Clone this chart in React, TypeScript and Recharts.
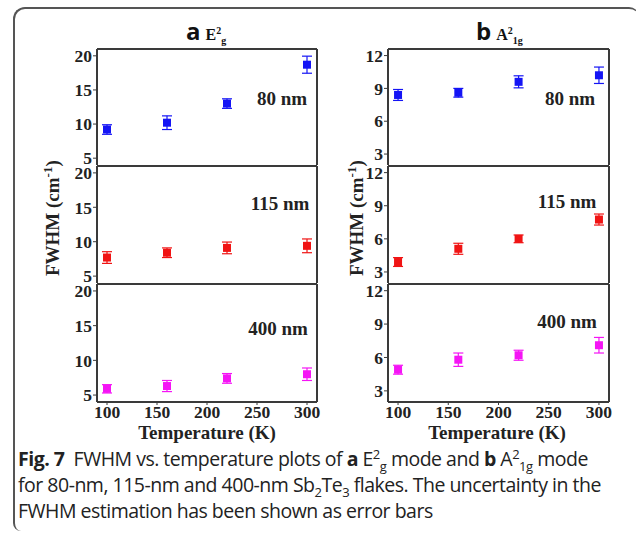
import React from "react";
import { ErrorBar, Scatter, ScatterChart, XAxis, YAxis, ZAxis } from "recharts";

const temps = [100, 160, 220, 300];
const xTicks = [100, 150, 200, 250, 300];

// E2g mode (left column)
const e2g80 = [9.2, 10.2, 13.0, 18.7];
const e2g80Err = [0.7, 1.0, 0.7, 1.25];
const e2g115 = [7.7, 8.4, 9.1, 9.4];
const e2g115Err = [0.85, 0.7, 0.85, 1.0];
const e2g400 = [5.9, 6.3, 7.4, 8.0];
const e2g400Err = [0.6, 0.8, 0.7, 0.9];
const e2gTicks = [5, 10, 15, 20];

// A2 1g mode (right column)
const a1g80 = [8.4, 8.6, 9.6, 10.2];
const a1g80Err = [0.5, 0.4, 0.55, 0.75];
const a1g115 = [3.9, 5.1, 6.0, 7.75];
const a1g115Err = [0.4, 0.5, 0.35, 0.5];
const a1g400 = [4.9, 5.8, 6.2, 7.1];
const a1g400Err = [0.4, 0.6, 0.45, 0.7];
const a1gTicks = [3, 6, 9, 12];

const thickness = ["80 nm", "115 nm", "400 nm"];
const colors = ["#1414f5", "#f01414", "#f514f5"];

const serif = "'Liberation Serif', 'Times New Roman', serif";
const sans = "'Open Sans', 'Noto Sans', sans-serif";
const axisColor = "#3a3a3a";

const rows = (vals: number[], errs: number[]) =>
  temps.map((t, i) => ({ t, v: vals[i], err: errs[i] }));

type PanelProps = {
  data: { t: number; v: number; err: number }[];
  color: string;
  yDomain: [number, number];
  yTicks: number[];
  showX: boolean;
  px: number;
  py: number;
  pw: number;
  ph: number;
};

function Panel({ data, color, yDomain, yTicks, showX, px, py, pw, ph }: PanelProps) {
  const yw = 45;
  const pad = 12;
  const xh = showX ? 30 : 0;
  const tickStyle = { fill: "#222", fontSize: 17.5, fontWeight: "bold", fontFamily: serif };
  const line = { stroke: axisColor, strokeWidth: 2 };
  return (
    <div style={{ position: "absolute", left: px - yw, top: py - pad }}>
      <ScatterChart
        width={pw + yw + pad}
        height={ph + pad + (showX ? xh : pad)}
        margin={{ top: pad, right: pad, bottom: showX ? 0 : pad, left: 0 }}
      >
        <XAxis
          dataKey="t"
          type="number"
          domain={[90, 310]}
          ticks={xTicks}
          height={xh}
          stroke={axisColor}
          tick={showX ? tickStyle : false}
          tickSize={3}
          tickMargin={1}
          axisLine={line}
          tickLine={{ stroke: axisColor }}
          allowDataOverflow
        />
        <XAxis
          xAxisId="top"
          orientation="top"
          type="number"
          domain={[90, 310]}
          height={1}
          stroke={axisColor}
          tick={false}
          tickLine={false}
          axisLine={line}
        />
        <YAxis
          dataKey="v"
          type="number"
          domain={yDomain}
          ticks={yTicks}
          width={yw}
          stroke={axisColor}
          tick={tickStyle}
          tickSize={4}
          tickMargin={1}
          axisLine={line}
          tickLine={{ stroke: axisColor }}
          allowDataOverflow
        />
        <YAxis
          yAxisId="right"
          orientation="right"
          type="number"
          domain={yDomain}
          width={1}
          stroke={axisColor}
          tick={false}
          tickLine={false}
          axisLine={line}
        />
        <ZAxis range={[42, 42]} />
        <Scatter data={data} fill={color} shape="square" isAnimationActive={false}>
          <ErrorBar dataKey="err" direction="y" width={5} stroke={color} strokeWidth={1.2} />
        </Scatter>
      </ScatterChart>
    </div>
  );
}

const nmLabel = (text: string, cx: number, cy: number) => (
  <div
    key={text + cx}
    style={{
      position: "absolute",
      left: cx - 50,
      top: cy - 12,
      width: 100,
      textAlign: "center",
      font: `bold 19px ${serif}`,
      color: "#222",
    }}
  >
    {text}
  </div>
);

const textAt = (content: React.ReactNode, cx: number, cy: number, rotate = false) => (
  <div
    style={{
      position: "absolute",
      left: cx - 100,
      top: cy - 12,
      width: 200,
      textAlign: "center",
      font: `bold 19px ${serif}`,
      color: "#222",
      transform: rotate ? "rotate(-90deg)" : undefined,
      whiteSpace: "nowrap",
    }}
  >
    {content}
  </div>
);

const Sub = ({ children }: { children: React.ReactNode }) => (
  <span style={{ fontSize: 13, position: "relative", top: 5 }}>{children}</span>
);
const Sup = ({ children }: { children: React.ReactNode }) => (
  <span style={{ fontSize: 13, position: "relative", top: -7 }}>{children}</span>
);

export default function App() {
  const leftCol = { px: 97, pw: 221 };
  const rightCol = { px: 388, pw: 222 };
  const rowTops = [48, 165, 283];
  const rowH = [117, 118, 119];
  const e2gSets = [rows(e2g80, e2g80Err), rows(e2g115, e2g115Err), rows(e2g400, e2g400Err)];
  const a1gSets = [rows(a1g80, a1g80Err), rows(a1g115, a1g115Err), rows(a1g400, a1g400Err)];
  const ylab = (
    <span>
      FWHM (cm<sup style={{ fontSize: 13 }}>-1</sup>)
    </span>
  );
  return (
    <div
      style={{
        position: "absolute",
        left: 0,
        top: 0,
        width: 636,
        height: 536,
        background: "#fff",
        overflow: "hidden",
      }}
    >
      <div
        style={{
          position: "absolute",
          left: 13,
          top: 7,
          width: 624,
          height: 522,
          borderTop: "2px solid #555",
          borderLeft: "2px solid #555",
          borderTopLeftRadius: 12,
          borderTopRightRadius: 10,
          borderBottomLeftRadius: 8,
        }}
      />
      {rowTops.map((top, i) => (
        <Panel
          key={"l" + i}
          data={e2gSets[i]}
          color={colors[i]}
          yDomain={[4, 21]}
          yTicks={e2gTicks}
          showX={i === 2}
          px={leftCol.px}
          pw={leftCol.pw}
          py={top}
          ph={rowH[i]}
        />
      ))}
      {rowTops.map((top, i) => (
        <Panel
          key={"r" + i}
          data={a1gSets[i]}
          color={colors[i]}
          yDomain={[2, 12.6]}
          yTicks={a1gTicks}
          showX={i === 2}
          px={rightCol.px}
          pw={rightCol.pw}
          py={top}
          ph={rowH[i]}
        />
      ))}
      {nmLabel(thickness[0], 282, 100)}
      {nmLabel(thickness[1], 280, 205)}
      {nmLabel(thickness[2], 278, 330)}
      {nmLabel(thickness[0], 570, 100)}
      {nmLabel(thickness[1], 567, 203)}
      {nmLabel(thickness[2], 567, 323)}
      {textAt("Temperature (K)", 207, 434)}
      {textAt("Temperature (K)", 497, 434)}
      {textAt(ylab, 52, 218, true)}
      {textAt(ylab, 356, 218, true)}
      <div style={{ position: "absolute", left: 186, top: 14, whiteSpace: "nowrap", color: "#111" }}>
        <span style={{ font: `bold 24px ${sans}` }}>a</span>
        <span style={{ font: `bold 16px ${serif}`, marginLeft: 5 }}>
          E<sup style={{ fontSize: 10 }}>2</sup>
          <sub style={{ fontSize: 10 }}>g</sub>
        </span>
      </div>
      <div style={{ position: "absolute", left: 476, top: 14, whiteSpace: "nowrap", color: "#111" }}>
        <span style={{ font: `bold 24px ${sans}` }}>b</span>
        <span style={{ font: `bold 16px ${serif}`, marginLeft: 5 }}>
          A<sup style={{ fontSize: 10 }}>2</sup>
          <sub style={{ fontSize: 10 }}>1g</sub>
        </span>
      </div>
      <div
        style={{
          position: "absolute",
          left: 18,
          top: 447,
          width: 640,
          font: `19.5px/23px ${sans}`,
          color: "#222",
          letterSpacing: -0.5,
          whiteSpace: "nowrap",
        }}
      >
        <b>Fig. 7</b>&nbsp; FWHM vs. temperature plots of <b>a</b> E<Sup>2</Sup>
        <Sub>g</Sub> mode and <b>b</b> A<Sup>2</Sup>
        <Sub>1g</Sub> mode
        <br />
        for 80-nm, 115-nm and 400-nm Sb<Sub>2</Sub>Te<Sub>3</Sub> flakes. The uncertainty in the
        <br />
        FWHM estimation has been shown as error bars
      </div>
    </div>
  );
}
